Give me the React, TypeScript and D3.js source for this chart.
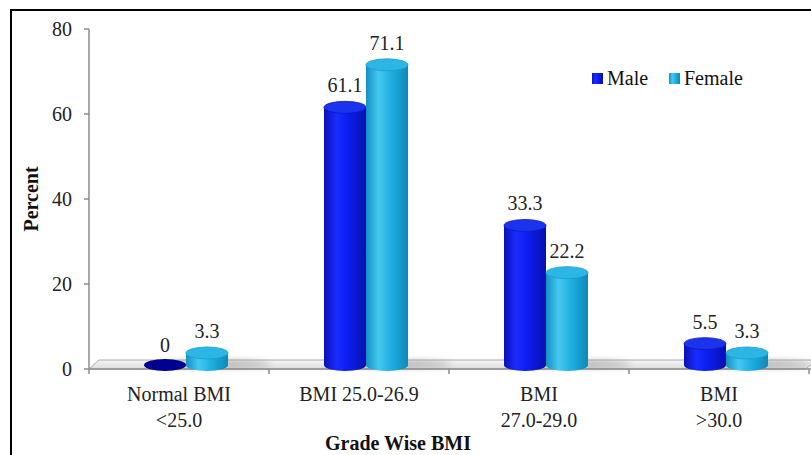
import React from "react";
import * as d3 from "d3";

const categories = ["Normal BMI|<25.0", "BMI 25.0-26.9", "BMI|27.0-29.0", "BMI|>30.0"];
const maleValues = [0, 61.1, 33.3, 5.5];
const femaleValues = [3.3, 71.1, 22.2, 3.3];
const seriesNames = ["Male", "Female"];
const yTicks = [0, 20, 40, 60, 80];

const W = 811;
const H = 455;
const FONT = "Liberation Serif, Tinos, DejaVu Serif, serif";

export default function App() {
  const y = d3.scaleLinear().domain([0, 80]).range([369, 29]);
  const x = d3.scaleBand<string>().domain(categories).range([89, 809]);
  const sub = d3.scaleBand<string>().domain(seriesNames).range([-42, 42]);
  const depthX = 7;
  const baseY = 365;
  const rx = 21;
  const ry = 6;
  const series = [maleValues, femaleValues];
  const bodyGrad = ["gMale", "gFemale"];
  const topFill = ["#1c33ee", "#2cb6e6"];
  const ts = { fontFamily: FONT };

  const cyl = (cx: number, top: number) => {
    const t = Math.min(top, baseY);
    return `M${cx - rx},${t} L${cx - rx},${baseY} A${rx},${ry} 0 0 0 ${cx + rx},${baseY} L${cx + rx},${t} Z`;
  };

  return (
    <svg width={W} height={H} style={{ position: "absolute", left: 0, top: 0, background: "#fff", fontFamily: FONT }}>
      <defs>
        <linearGradient id="gMale" x1="0" x2="1" y1="0" y2="0">
          <stop offset="0" stopColor="#0a12b8" />
          <stop offset="0.3" stopColor="#1a2cff" />
          <stop offset="0.55" stopColor="#0d1ef0" />
          <stop offset="1" stopColor="#0610b0" />
        </linearGradient>
        <linearGradient id="gFemale" x1="0" x2="1" y1="0" y2="0">
          <stop offset="0" stopColor="#1290c4" />
          <stop offset="0.3" stopColor="#45c8f0" />
          <stop offset="0.6" stopColor="#1eaee0" />
          <stop offset="1" stopColor="#0d88ba" />
        </linearGradient>
        <linearGradient id="gFloor" x1="0" x2="0" y1="0" y2="1">
          <stop offset="0" stopColor="#f6f6f6" />
          <stop offset="1" stopColor="#dcdcdc" />
        </linearGradient>
        <filter id="blur" x="-50%" y="-50%" width="200%" height="200%">
          <feGaussianBlur stdDeviation="3" />
        </filter>
      </defs>

      {/* frame */}
      <rect x={11} y={10} width={W + 10} height={H + 10} fill="none" stroke="#000" strokeWidth={2} />

      {/* floor */}
      <path
        d={`M89,${y(0)} L99,${y(0) - 9} L${W + 5},${y(0) - 9} L${W - 5},${y(0)} Z`}
        fill="url(#gFloor)"
        stroke="#a8a8a8"
        strokeWidth={1}
      />
      {/* shadows */}
      {categories.map((c) => {
        const cx = (x(c) ?? 0) + x.bandwidth() / 2 + depthX;
        return (
          <ellipse key={"sh" + c} cx={cx + 30} cy={baseY - 1} rx={55} ry={4} fill="#9a9a9a" opacity={0.6} filter="url(#blur)" />
        );
      })}

      {/* y axis */}
      <line x1={89} x2={89} y1={y(80)} y2={y(0)} stroke="#8c8c8c" strokeWidth={1.5} />
      {yTicks.map((t) => (
        <g key={t}>
          <line x1={84} x2={89} y1={y(t)} y2={y(t)} stroke="#8c8c8c" strokeWidth={1.5} />
          <text x={72} y={y(t)} dy="0.35em" textAnchor="end" fontSize={20} fill="#222" style={ts}>
            {t}
          </text>
        </g>
      ))}
      {/* x axis */}
      <line x1={89} x2={W} y1={y(0)} y2={y(0)} stroke="#8c8c8c" strokeWidth={1.5} />
      {[...categories.map((c) => x(c) ?? 0), 809].map((p, i) => (
        <line key={"xt" + i} x1={p} x2={p} y1={y(0)} y2={y(0) + 5} stroke="#8c8c8c" strokeWidth={1.5} />
      ))}

      {/* bars */}
      {categories.map((c, ci) => {
        const cc = (x(c) ?? 0) + x.bandwidth() / 2 + depthX;
        return (
          <g key={"b" + c}>
            {seriesNames.map((s, si) => {
              const v = series[si][ci];
              const bx = cc + (sub(s) ?? 0) + sub.bandwidth() / 2;
              const top = y(v) - 2;
              return (
                <g key={s}>
                  {v > 0 && <path d={cyl(bx, top)} fill={`url(#${bodyGrad[si]})`} />}
                  <ellipse
                    cx={bx}
                    cy={Math.min(top, baseY)}
                    rx={rx}
                    ry={ry}
                    fill={v > 0 ? topFill[si] : "#000090"}
                    stroke={v > 0 ? (si === 0 ? "#0a18c8" : "#1a9ccc") : "none"}
                    strokeWidth={0.8}
                  />
                </g>
              );
            })}
          </g>
        );
      })}

      {/* data labels */}
      {categories.map((c, ci) => {
        const cc = (x(c) ?? 0) + x.bandwidth() / 2 + depthX;
        return seriesNames.map((s, si) => {
          const v = series[si][ci];
          const bx = cc + (sub(s) ?? 0) + sub.bandwidth() / 2;
          return (
            <text key={"l" + c + s} x={bx} y={y(v) - 17} textAnchor="middle" fontSize={20} fill="#222" style={ts}>
              {String(v)}
            </text>
          );
        });
      })}

      {/* category labels */}
      {categories.map((c) => {
        const cx = (x(c) ?? 0) + x.bandwidth() / 2;
        return (
          <text key={"c" + c} x={cx} y={401} textAnchor="middle" fontSize={20} fill="#222" style={ts}>
            {c.split("|").map((ln, i) => (
              <tspan key={i} x={cx} dy={i === 0 ? 0 : 26}>
                {ln}
              </tspan>
            ))}
          </text>
        );
      })}

      {/* axis titles */}
      <text transform="translate(38,199) rotate(-90)" textAnchor="middle" fontSize={20} fontWeight="bold" fill="#111" style={ts}>
        Percent
      </text>
      <text x={398} y={450} textAnchor="middle" fontSize={20} fontWeight="bold" fill="#111" style={ts}>
        Grade Wise BMI
      </text>

      {/* legend */}
      {seriesNames.map((s, i) => {
        const lx = [592, 669][i];
        return (
          <g key={"lg" + s}>
            <rect x={lx} y={73} width={11} height={11} fill={`url(#${bodyGrad[i]})`} />
            <text x={lx + 15} y={85} fontSize={20} fill="#111" style={ts}>
              {s}
            </text>
          </g>
        );
      })}
    </svg>
  );
}
